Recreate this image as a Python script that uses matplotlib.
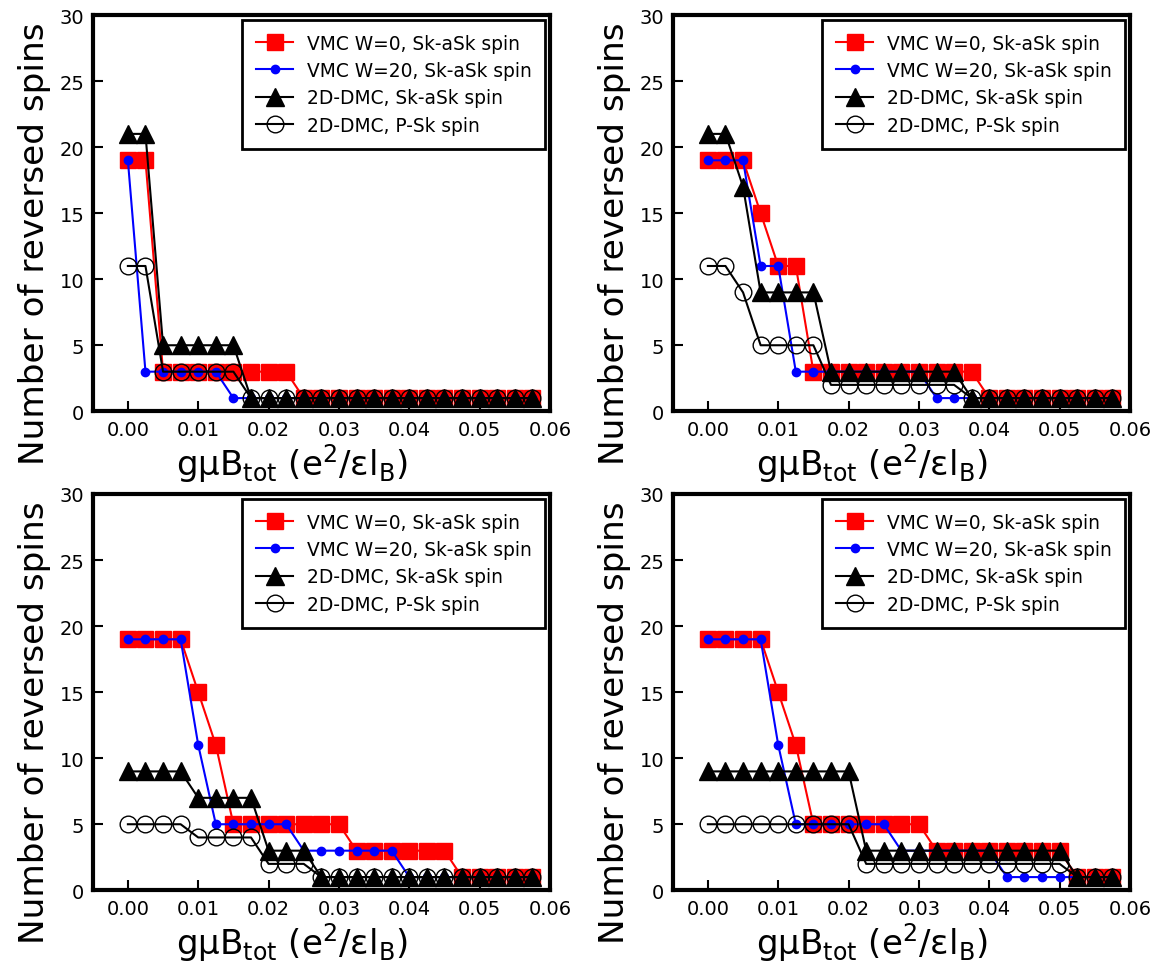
import matplotlib
matplotlib.use("Agg")
import matplotlib.pyplot as plt

plt.rcParams['font.family'] = ['DejaVu Sans']
plt.rcParams['mathtext.default'] = 'regular'

# x values (g mu B_tot in e^2/eps l_B)
x_vals = [0.0, 0.0025, 0.005, 0.0075, 0.01, 0.0125, 0.015, 0.0175,
          0.02, 0.0225, 0.025, 0.0275, 0.03, 0.0325, 0.035, 0.0375,
          0.04, 0.0425, 0.045, 0.0475, 0.05, 0.0525, 0.055, 0.0575]

series_labels = ["VMC W=0, Sk-aSk spin", "VMC W=20, Sk-aSk spin",
                 "2D-DMC, Sk-aSk spin", "2D-DMC, P-Sk spin"]

# Panel (top-left)
vmc0_a = [19, 19, 3, 3, 3, 3, 3, 3, 3, 3, 1, 1, 1, 1, 1, 1, 1, 1, 1, 1, 1, 1, 1, 1]
vmc20_a = [19, 3, 3, 3, 3, 3, 1, 1, 1, 1, 1, 1, 1, 1, 1, 1, 1, 1, 1, 1, 1, 1, 1, 1]
dmc_sk_a = [21, 21, 5, 5, 5, 5, 5, 1, 1, 1, 1, 1, 1, 1, 1, 1, 1, 1, 1, 1, 1, 1, 1, 1]
dmc_psk_a = [11, 11, 3, 3, 3, 3, 3, 1, 1, 1, 1, 1, 1, 1, 1, 1, 1, 1, 1, 1, 1, 1, 1, 1]

# Panel (top-right)
vmc0_b = [19, 19, 19, 15, 11, 11, 3, 3, 3, 3, 3, 3, 3, 3, 3, 3, 1, 1, 1, 1, 1, 1, 1, 1]
vmc20_b = [19, 19, 19, 11, 11, 3, 3, 3, 3, 3, 3, 3, 3, 1, 1, 1, 1, 1, 1, 1, 1, 1, 1, 1]
dmc_sk_b = [21, 21, 17, 9, 9, 9, 9, 3, 3, 3, 3, 3, 3, 3, 3, 1, 1, 1, 1, 1, 1, 1, 1, 1]
dmc_psk_b = [11, 11, 9, 5, 5, 5, 5, 2, 2, 2, 2, 2, 2, 2, 2, 1, 1, 1, 1, 1, 1, 1, 1, 1]

# Panel (bottom-left)
vmc0_c = [19, 19, 19, 19, 15, 11, 5, 5, 5, 5, 5, 5, 5, 3, 3, 3, 3, 3, 3, 1, 1, 1, 1, 1]
vmc20_c = [19, 19, 19, 19, 11, 5, 5, 5, 5, 5, 3, 3, 3, 3, 3, 3, 1, 1, 1, 1, 1, 1, 1, 1]
dmc_sk_c = [9, 9, 9, 9, 7, 7, 7, 7, 3, 3, 3, 1, 1, 1, 1, 1, 1, 1, 1, 1, 1, 1, 1, 1]
dmc_psk_c = [5, 5, 5, 5, 4, 4, 4, 4, 2, 2, 2, 1, 1, 1, 1, 1, 1, 1, 1, 1, 1, 1, 1, 1]

# Panel (bottom-right)
vmc0_d = [19, 19, 19, 19, 15, 11, 5, 5, 5, 5, 5, 5, 5, 3, 3, 3, 3, 3, 3, 3, 3, 1, 1, 1]
vmc20_d = [19, 19, 19, 19, 11, 5, 5, 5, 5, 5, 5, 3, 3, 3, 3, 3, 3, 1, 1, 1, 1, 1, 1, 1]
dmc_sk_d = [9, 9, 9, 9, 9, 9, 9, 9, 9, 3, 3, 3, 3, 3, 3, 3, 3, 3, 3, 3, 3, 1, 1, 1]
dmc_psk_d = [5, 5, 5, 5, 5, 5, 5, 5, 5, 2, 2, 2, 2, 2, 2, 2, 2, 2, 2, 2, 2, 1, 1, 1]

panels = [
    (vmc0_a, vmc20_a, dmc_sk_a, dmc_psk_a),
    (vmc0_b, vmc20_b, dmc_sk_b, dmc_psk_b),
    (vmc0_c, vmc20_c, dmc_sk_c, dmc_psk_c),
    (vmc0_d, vmc20_d, dmc_sk_d, dmc_psk_d),
]

W, H = 1162, 962
fig = plt.figure(figsize=(W / 100, H / 100), dpi=100)

ax_w = (550 - 92.7) / W
ax_h = (412.3 - 16) / H
lefts = [92.7 / W, 672.7 / W]
bottoms = [1 - 412.3 / H, 1 - 891.3 / H]

positions = [(lefts[0], bottoms[0]), (lefts[1], bottoms[0]),
             (lefts[0], bottoms[1]), (lefts[1], bottoms[1])]

for (l, b), (s0, s20, sk, psk) in zip(positions, panels):
    ax = fig.add_axes([l, b, ax_w, ax_h])
    ax.plot(x_vals, s0, color='red', marker='s', markersize=12, lw=1.5,
            label=series_labels[0])
    ax.plot(x_vals, s20, color='blue', marker='o', markersize=6, lw=1.5,
            label=series_labels[1])
    ax.plot(x_vals, sk, color='black', marker='^', markersize=12.5, lw=1.5,
            label=series_labels[2])
    ax.plot(x_vals, psk, color='black', marker='o', markersize=12, lw=1.5,
            markerfacecolor='none', label=series_labels[3])
    ax.set_xlim(-0.005, 0.06)
    ax.set_ylim(0, 30)
    ax.set_xticks([0.0, 0.01, 0.02, 0.03, 0.04, 0.05, 0.06])
    ax.set_xticklabels(['0.00', '0.01', '0.02', '0.03', '0.04', '0.05', '0.06'])
    ax.set_yticks([0, 5, 10, 15, 20, 25, 30])
    ax.tick_params(direction='in', length=7, width=1.5, labelsize=14, pad=6)
    for sp in ax.spines.values():
        sp.set_linewidth(3)
    ax.set_xlabel('gμB$_{tot}$ (e$^{2}$/εl$_{B}$)', fontsize=24.5, labelpad=2)
    ax.set_ylabel('Number of reversed spins', fontsize=24.7, labelpad=6)
    ax.xaxis.label.set_x(0.436)
    ax.yaxis.label.set_y(0.425)
    leg = ax.legend(loc='upper right', fontsize=13.4, frameon=True, fancybox=False,
                    edgecolor='black', framealpha=1, borderaxespad=0.25,
                    labelspacing=0.45, handlelength=2.0, handletextpad=0.7,
                    borderpad=0.75)
    leg.get_frame().set_linewidth(2)

fig.savefig('out.png', dpi=100)
